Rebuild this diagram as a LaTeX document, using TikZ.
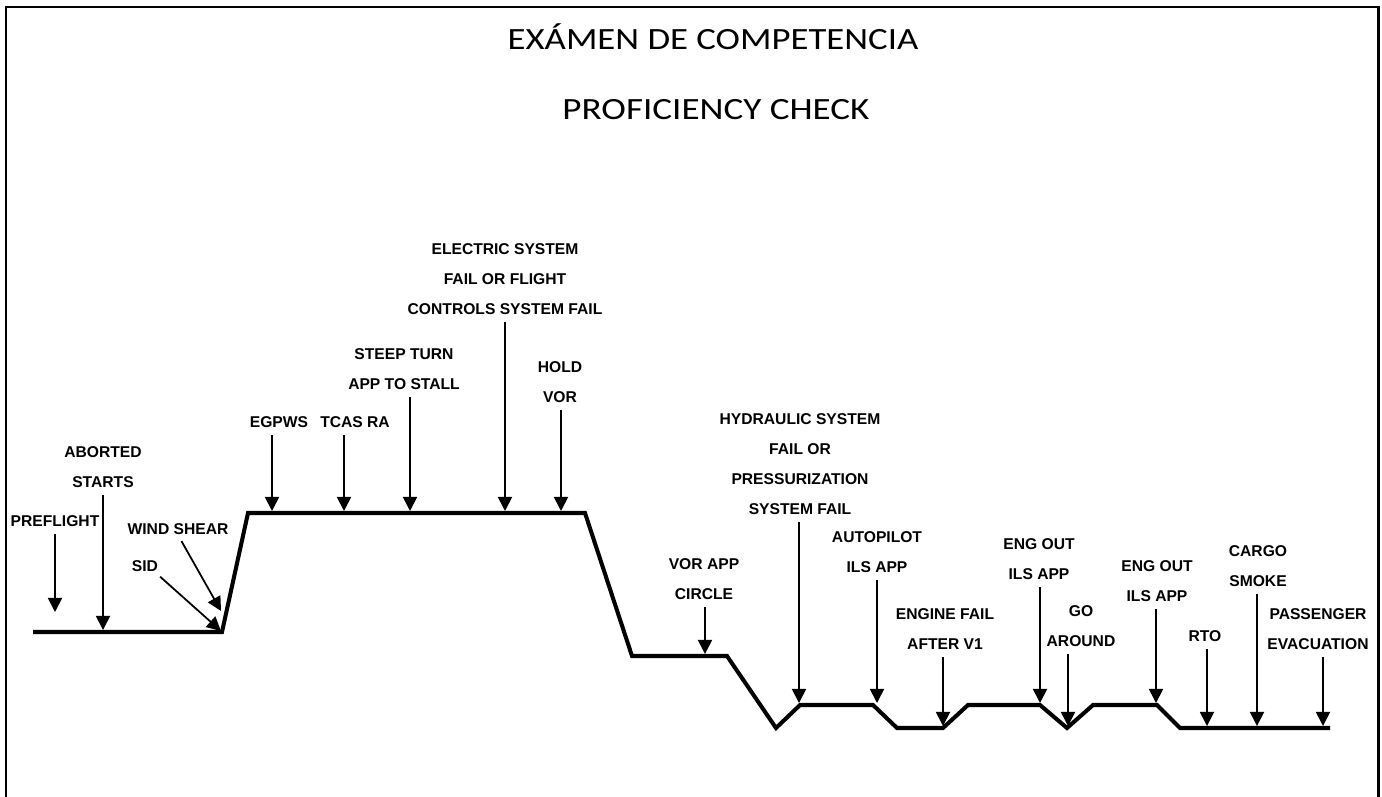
\documentclass[tikz,border=0pt]{standalone}
\usepackage{fontspec}
\setmainfont{Liberation Sans}
\newfontfamily\titlefont{Carlito}
\usepackage{tikz}
\usetikzlibrary{arrows.meta}
\tikzstyle{every node}=[font=\bfseries\fontsize{8.9}{17}\selectfont]
\tikzstyle{event}=[align=center,
                   anchor=south,
                   inner sep=0pt]
\tikzstyle{heading}=[font=\titlefont\fontsize{17.6}{20}\selectfont,
                     anchor=base,
                     inner sep=0pt]
\tikzstyle{pointer}=[->,
                     line width=1pt,
                     shorten <=4pt]
\tikzstyle{profile}=[line width=2.3pt]

\begin{document}
\begin{tikzpicture}[x=0.02cm,y=-0.02cm,>={Triangle[width=8pt,length=8pt]}]
\useasboundingbox (0,0) rectangle (1382,797);
\draw[line width=1.7pt] (1378,797) -- (1378,7) -- (6,7) -- (6,797);
\node (exam)  [heading] at (713,50)  {\scalebox{1.19}[1]{EXÁMEN DE COMPETENCIA}};
\node (check) [heading] at (716,120) {\scalebox{1.2}[1]{PROFICIENCY CHECK}};
% flight profile
\draw[profile] (33,632) -- (222,632) -- (248,513) -- (585,513) -- (632,656)
  -- (727,656) -- (776,728) -- (800,705) -- (873,705) -- (897,728)
  -- (943,728) -- (968,705) -- (1040,705) -- (1067,728) -- (1093,705)
  -- (1157,705) -- (1180,728) -- (1330,728);
% arrow tips on the profile
\coordinate (t_pre) at (55,612);
\coordinate (t_abo) at (103,630);
\coordinate (t_win) at (221,611);
\coordinate (t_sid) at (221,631);
\coordinate (t_egp) at (272,511);
\coordinate (t_tca) at (344,511);
\coordinate (t_ste) at (410,511);
\coordinate (t_ele) at (505,511);
\coordinate (t_hol) at (561,511);
\coordinate (t_vor) at (705,654);
\coordinate (t_hyd) at (799,703);
\coordinate (t_aut) at (877,703);
\coordinate (t_eng) at (943,726);
\coordinate (t_eo1) at (1040,703);
\coordinate (t_go)  at (1068,726);
\coordinate (t_eo2) at (1156,703);
\coordinate (t_rto) at (1207,726);
\coordinate (t_car) at (1257,726);
\coordinate (t_pas) at (1323,726);
% events
\node (preflight)  [event] at (55,527)   {PREFLIGHT};
\node (aborted)    [event] at (103,488)  {ABORTED\\STARTS};
\node (windshear)  [event] at (178,535)  {WIND SHEAR};
\node (sid)        [event] at (145,572)  {SID};
\node (egpws)      [event] at (279,428)  {EGPWS};
\node (tcas)       [event] at (355,428)  {TCAS RA};
\node (steep)      [event] at (404,390)  {STEEP TURN\\APP TO STALL};
\node (electric)   [event] at (505,315)  {ELECTRIC SYSTEM\\FAIL OR FLIGHT\\CONTROLS SYSTEM FAIL};
\node (hold)       [event] at (560,403)  {HOLD\\VOR};
\node (vorapp)     [event] at (704,600)  {VOR APP\\CIRCLE};
\node (hydraulic)  [event] at (800,515)  {HYDRAULIC SYSTEM\\FAIL OR\\PRESSURIZATION\\SYSTEM FAIL};
\node (autopilot)  [event] at (877,573)  {AUTOPILOT\\ILS APP};
\node (enginefail) [event] at (945,650)  {ENGINE FAIL\\AFTER V1};
\node (engout1)    [event] at (1039,580) {ENG OUT\\ILS APP};
\node (goaround)   [event] at (1081,647) {GO\\AROUND};
\node (engout2)    [event] at (1157,602) {ENG OUT\\ILS APP};
\node (rto)        [event] at (1205,642) {RTO};
\node (cargo)      [event] at (1258,587) {CARGO\\SMOKE};
\node (passenger)  [event] at (1318,650) {PASSENGER\\EVACUATION};
\path (preflight.south -| t_pre) edge[pointer] (t_pre);
\path (aborted.south -| t_abo) edge[pointer] (t_abo);
\path (windshear.south) edge[pointer] (t_win);
\path ([xshift=-2pt]sid.south east) edge[pointer] (t_sid);
\path (egpws.south -| t_egp) edge[pointer] (t_egp);
\path (tcas.south -| t_tca) edge[pointer] (t_tca);
\path (steep.south -| t_ste) edge[pointer] (t_ste);
\path (electric.south -| t_ele) edge[pointer] (t_ele);
\path (hold.south -| t_hol) edge[pointer] (t_hol);
\path (vorapp.south -| t_vor) edge[pointer] (t_vor);
\path (hydraulic.south -| t_hyd) edge[pointer] (t_hyd);
\path (autopilot.south -| t_aut) edge[pointer] (t_aut);
\path (enginefail.south -| t_eng) edge[pointer] (t_eng);
\path (engout1.south -| t_eo1) edge[pointer] (t_eo1);
\path (goaround.south -| t_go) edge[pointer] (t_go);
\path (engout2.south -| t_eo2) edge[pointer] (t_eo2);
\path (rto.south -| t_rto) edge[pointer] (t_rto);
\path (cargo.south -| t_car) edge[pointer] (t_car);
\path (passenger.south -| t_pas) edge[pointer] (t_pas);
\end{tikzpicture}
\end{document}
